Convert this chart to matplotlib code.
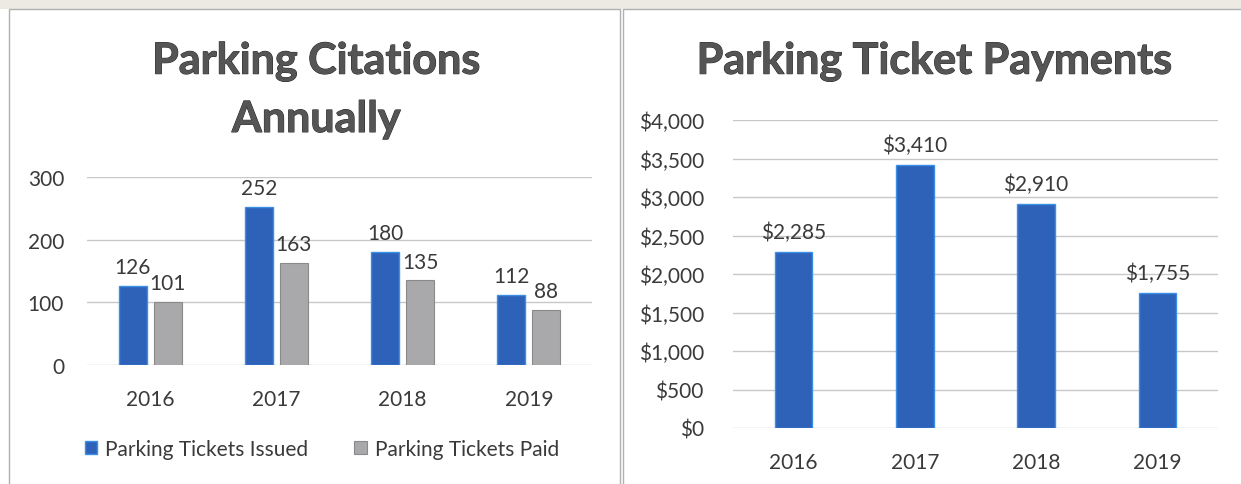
import matplotlib
matplotlib.use("Agg")
import matplotlib.pyplot as plt
from matplotlib.patches import Rectangle
import matplotlib.patheffects as pe
import numpy as np

plt.rcParams['font.family'] = ['Lato', 'DejaVu Sans']

years = ["2016", "2017", "2018", "2019"]
tickets_issued = [126, 252, 180, 112]
tickets_paid = [101, 163, 135, 88]
payments = [2285, 3410, 2910, 1755]
payment_labels = ["$2,285", "$3,410", "$2,910", "$1,755"]
left_yticks = [0, 100, 200, 300]
right_yticks = [0, 500, 1000, 1500, 2000, 2500, 3000, 3500, 4000]

BLUE = "#2E62B9"
BLUE_EDGE = "#3C8FE6"
GRAY = "#A9A9AB"
GRAY_EDGE = "#8A8A8A"
TXT = "#3A3A3A"
GRID = "#C8C8C8"
FS = 15

W, H = 1241, 485
fig = plt.figure(figsize=(W / 100, H / 100), dpi=100)
fig.patch.set_facecolor("white")

def px_axes(x0, x1, ytop, ybot):
    return fig.add_axes([x0 / W, (H - ybot) / H, (x1 - x0) / W, (ybot - ytop) / H])

# Panel borders
bg = fig.add_axes([0, 0, 1, 1])
bg.set_xlim(0, W); bg.set_ylim(H, 0); bg.axis("off")
bg.add_patch(Rectangle((0, 0), W, 10, facecolor="#EDEAE3", edgecolor="none"))
bg.add_patch(Rectangle((9, 10), 611, 480, facecolor="white", edgecolor="#B0B0B0", lw=1))
bg.add_patch(Rectangle((623, 10), 620, 480, facecolor="white", edgecolor="#B0B0B0", lw=1))

title_fx = [pe.withStroke(linewidth=0.7, foreground="#262626")]
TITLE_COL = "#555555"

# ---------- Left chart ----------
ax1 = px_axes(87, 592, 178, 366)
x = np.arange(len(years))
bw = 0.222
off = 0.139
b1 = ax1.bar(x - off, tickets_issued, bw, color=BLUE, edgecolor=BLUE_EDGE, linewidth=1.0, zorder=3)
b2 = ax1.bar(x + off, tickets_paid, bw, color=GRAY, edgecolor=GRAY_EDGE, linewidth=0.8, zorder=3)
ax1.set_xlim(-0.5, 3.5)
ax1.set_ylim(0, 300)
ax1.set_yticks(left_yticks)
ax1.set_yticklabels([str(v) for v in left_yticks])
ax1.set_xticks(x)
ax1.set_xticklabels(years)
ax1.grid(axis="y", color=GRID, lw=1.0, zorder=0)
for s in ax1.spines.values():
    s.set_visible(False)
ax1.tick_params(length=0, labelsize=FS, colors=TXT)
ax1.tick_params(axis="y", pad=16.5)
ax1.tick_params(axis="x", pad=17)
for xi, v in zip(x, tickets_issued):
    ax1.text(xi - off, v + 14, str(v), ha="center", va="bottom", fontsize=FS, color=TXT, clip_on=False)
for xi, v in zip(x, tickets_paid):
    ax1.text(xi + off, v + 14, str(v), ha="center", va="bottom", fontsize=FS, color=TXT, clip_on=False)

fig.text(316 / W, 1 - 62 / H, "Parking Citations", ha="center", va="center",
         fontsize=31, fontweight="bold", color=TITLE_COL, path_effects=title_fx)
fig.text(316 / W, 1 - 120 / H, "Annually", ha="center", va="center",
         fontsize=31, fontweight="bold", color=TITLE_COL, path_effects=title_fx)

leg = fig.legend([b1, b2], ["Parking Tickets Issued", "Parking Tickets Paid"],
                 loc="center", bbox_to_anchor=(322 / W, 1 - 450 / H), ncol=2, frameon=False,
                 fontsize=FS, handlelength=0.6, handleheight=0.6, handletextpad=0.4,
                 columnspacing=2.2)
for t in leg.get_texts():
    t.set_color(TXT)

# ---------- Right chart ----------
ax2 = px_axes(733, 1218, 121, 429)
bw2 = 0.31
b3 = ax2.bar(x, payments, bw2, color=BLUE, edgecolor=BLUE_EDGE, linewidth=1.0, zorder=3)
ax2.set_xlim(-0.5, 3.5)
ax2.set_ylim(0, 4000)
ax2.set_yticks(right_yticks)
ax2.set_yticklabels(["${:,}".format(v) for v in right_yticks])
ax2.set_xticks(x)
ax2.set_xticklabels(years)
ax2.grid(axis="y", color=GRID, lw=1.0, zorder=0)
for s in ax2.spines.values():
    s.set_visible(False)
ax2.tick_params(length=0, labelsize=FS, colors=TXT)
ax2.tick_params(axis="y", pad=21)
ax2.tick_params(axis="x", pad=17.5)
for xi, v, lab in zip(x, payments, payment_labels):
    ax2.text(xi, v + 130, lab, ha="center", va="bottom", fontsize=FS, color=TXT, clip_on=False)

fig.text(934 / W, 1 - 62 / H, "Parking Ticket Payments", ha="center", va="center",
         fontsize=31, fontweight="bold", color=TITLE_COL, path_effects=title_fx)

fig.savefig("out.png", dpi=100, facecolor=fig.get_facecolor())
